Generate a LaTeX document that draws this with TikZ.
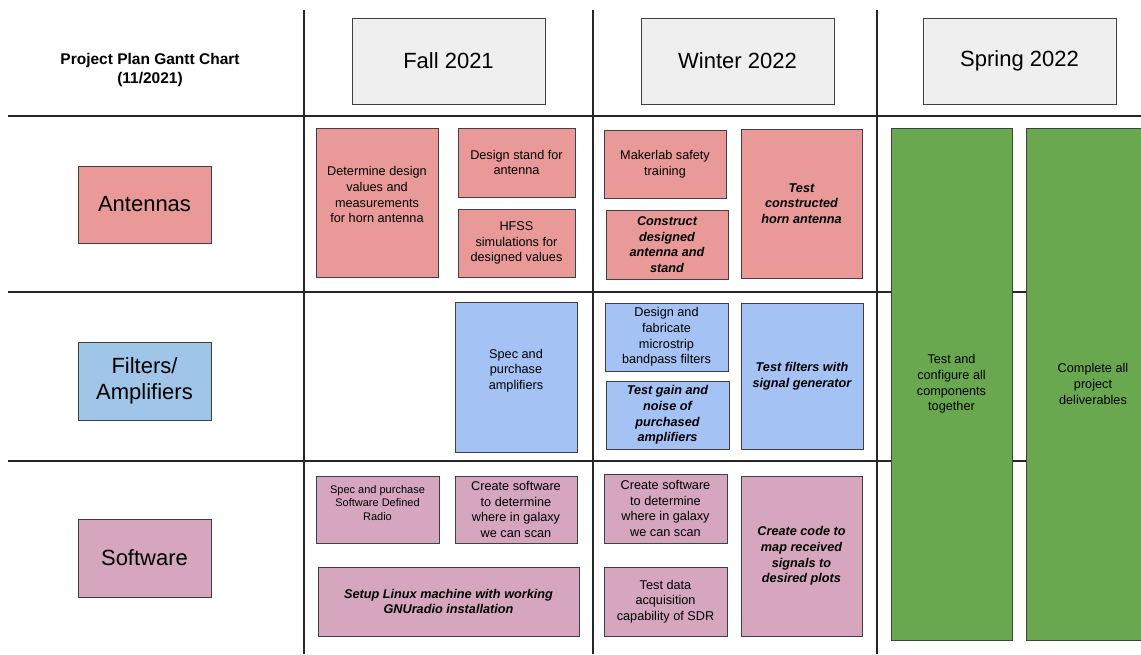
\documentclass[tikz,border=0pt]{standalone}
\usepackage{fontspec}
\setmainfont{Liberation Sans}
\definecolor{antred}{HTML}{EA9999}
\definecolor{filtblue}{HTML}{9FC5E8}
\definecolor{taskblue}{HTML}{A4C2F4}
\definecolor{softpink}{HTML}{D5A6BD}
\definecolor{allgreen}{HTML}{6AA84F}
\definecolor{headgray}{HTML}{EFEFEF}
\tikzset{
 grid line/.style={line width=2pt,draw=black!85},
 box/.style={shape=rectangle,draw=black!75,line width=1pt,align=center,inner sep=2pt},
 task/.style={box,font=\fontsize{12.7}{15.7}\selectfont},
 hot/.style={font=\fontsize{12.7}{15.7}\selectfont\bfseries\itshape},
 season/.style={box,fill=headgray,font=\fontsize{22}{26}\selectfont,minimum width=193,minimum height=86},
 stream/.style={box,font=\fontsize{22}{26}\selectfont,minimum width=133,minimum height=78}
}
\begin{document}
\begin{tikzpicture}[x=1pt,y=-1pt]
 \useasboundingbox (0,0) rectangle (1141,654);
 \foreach \gy in {116,292,461} \draw [grid line] (8,\gy) -- (1141,\gy);
 \foreach \gx in {304,593,877} \draw [grid line] (\gx,10) -- (\gx,654);
 \node (chart title) at (150,70) [align=center,font=\fontsize{15.5}{19.5}\selectfont\bfseries] {Project Plan Gantt Chart\\(11/2021)};
 \node (season 1) at (448.5,61) [season] {Fall 2021};
 \node (season 2) at (737.5,61) [season] {Winter 2022};
 \node (season 3) at (1019.5,61) [season] {Spring 2022};
 \node (stream 1) at (144.5,204.5) [stream,fill=antred,minimum height=77] {Antennas};
 \node (stream 2) at (144.5,381) [stream,fill=filtblue] {Filters/\\Amplifiers};
 \node (stream 3) at (144.5,558) [stream,fill=softpink] {Software};
 \node (ant 1) at (377,202.5) [task,fill=antred,minimum width=122,minimum height=149] {Determine design\\values and\\measurements\\for horn antenna\\ \mbox{}};
 \node (ant 2) at (516.5,162.5) [task,fill=antred,minimum width=117,minimum height=69] {Design stand for\\antenna};
 \node (ant 3) at (516.5,243) [task,fill=antred,minimum width=117,minimum height=68] {HFSS\\simulations for\\designed values};
 \node (ant 4) at (665,164) [task,fill=antred,minimum width=122,minimum height=68] {Makerlab safety\\training};
 \node (ant 5) at (667,244.5) [task,hot,fill=antred,minimum width=122,minimum height=69] {Construct\\designed\\antenna and\\stand};
 \node (ant 6) at (801.5,203.5) [task,hot,fill=antred,minimum width=121,minimum height=149] {Test\\constructed\\horn antenna};
 \node (filt 1) at (516,377) [task,fill=taskblue,minimum width=122,minimum height=150] {Spec and\\purchase\\amplifiers\\ \mbox{}};
 \node (filt 2) at (666.5,337) [task,fill=taskblue,minimum width=123,minimum height=68] {Design and\\fabricate\\microstrip\\bandpass filters};
 \node (filt 3) at (667.5,415) [task,hot,fill=taskblue,minimum width=123,minimum height=68] {Test gain and\\noise of\\purchased\\amplifiers};
 \node (filt 4) at (802,376) [task,hot,fill=taskblue,minimum width=122,minimum height=146] {Test filters with\\signal generator};
 \node (soft 1) at (377.5,509.5) [task,fill=softpink,minimum width=123,minimum height=67,font=\fontsize{11}{13.5}\selectfont] {Spec and purchase\\Software Defined\\Radio\\ \mbox{}};
 \node (soft 2) at (516,509.5) [task,fill=softpink,minimum width=122,minimum height=67] {Create software\\to determine\\where in galaxy\\we can scan};
 \node (soft 3) at (448.5,601.5) [task,hot,fill=softpink,minimum width=261,minimum height=69] {Setup Linux machine with working\\GNUradio installation};
 \node (soft 4) at (665.5,508.5) [task,fill=softpink,minimum width=123,minimum height=69] {Create software\\to determine\\where in galaxy\\we can scan};
 \node (soft 5) at (665.5,601.5) [task,fill=softpink,minimum width=123,minimum height=69] {Test data\\acquisition\\capability of SDR};
 \node (soft 6) at (801.5,556) [task,hot,fill=softpink,minimum width=121,minimum height=160] {Create code to\\map received\\signals to\\desired plots};
 \node (all 1) at (951.5,384) [task,fill=allgreen,minimum width=121,minimum height=512] {Test and\\configure all\\components\\together};
 \node (all 2) at (1093,384) [task,fill=allgreen,minimum width=134,minimum height=512] {Complete all\\project\\deliverables};
\end{tikzpicture}
\end{document}
